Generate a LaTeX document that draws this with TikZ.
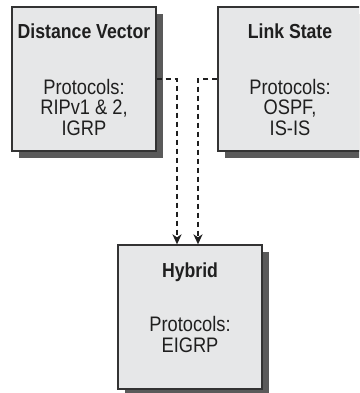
\documentclass[tikz,border=0pt]{standalone}
\usepackage{fontspec}
\setmainfont[FakeStretch=0.87]{Liberation Sans}
\definecolor{boxFill}{HTML}{E6E7E8}
\definecolor{boxLine}{HTML}{333333}
\definecolor{boxShade}{HTML}{5A5A5A}
\definecolor{linkInk}{HTML}{1F1F1F}
\usetikzlibrary{arrows.meta, positioning, shadows}

\tikzset{
    protobox/.style={draw=boxLine, fill=boxFill, line width=1.3pt, inner sep=0pt,
        minimum width=144pt, minimum height=144pt,
        drop shadow={shadow xshift=7pt, shadow yshift=-7pt, fill=boxShade, opacity=1}},
    boxtitle/.style={font=\fontsize{20.3}{20.5}\selectfont\bfseries, text=linkInk,
        anchor=base, inner sep=0pt},
    boxbody/.style={font=\fontsize{21}{20.5}\selectfont, text=linkInk, align=center,
        anchor=base, inner sep=0pt},
    link/.style={draw=linkInk, line width=1.8pt, dash pattern=on 5.5pt off 3.5pt,
        -{Stealth[length=10pt, width=9pt, inset=3pt]}}
}

\begin{document}
\begin{tikzpicture}[x=1pt, y=-1pt]
    \useasboundingbox (0,0) rectangle (359,393);
    \clip (0,0) rectangle (359,393);

    % Routing protocol classes
    \node[protobox] (dv) at (84,79) {};
    \node[protobox] (ls) at (290,79) {};
    \node[protobox] (hy) at (190,317) {};

    % Titles and protocol lists (body anchored on its last line)
    \node[boxtitle] (dvTitle) at ([yshift=-32pt]dv.north) {Distance Vector};
    \node[boxbody] (dvBody) at ([yshift=-129pt]dv.north) {Protocols:\\RIPv1 \& 2,\\IGRP};
    \node[boxtitle] (lsTitle) at ([yshift=-32pt]ls.north) {Link State};
    \node[boxbody] (lsBody) at ([yshift=-129pt]ls.north) {Protocols:\\OSPF,\\IS-IS};
    \node[boxtitle] (hyTitle) at ([yshift=-33pt]hy.north) {Hybrid};
    \node[boxbody] (hyBody) at ([yshift=-108pt]hy.north) {Protocols:\\EIGRP};

    % Both classes feed into hybrid
    \draw[link] (dv.east) -| ([xshift=-13pt]hy.north);
    \draw[link] (ls.west) -| ([xshift=8pt]hy.north);
\end{tikzpicture}
\end{document}
